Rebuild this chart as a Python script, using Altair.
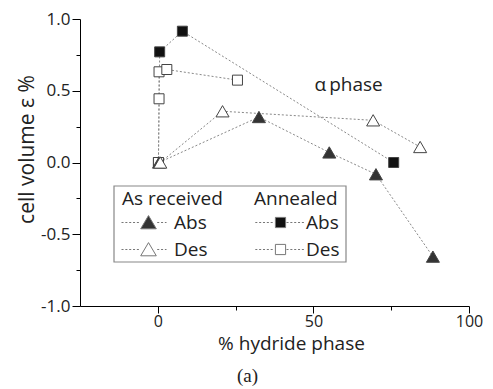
import altair as alt
import pandas as pd

# % hydride phase and cell-volume strain (%) for each run, in measurement order
ar_abs_x = [0.4, 32.5, 55.1, 70.1, 88.4]
ar_abs_y = [0.0, 0.317, 0.07, -0.082, -0.656]
ar_des_x = [0.8, 20.8, 69.2, 84.3]
ar_des_y = [0.0, 0.357, 0.294, 0.108]
an_abs_x = [0.2, 0.6, 7.9, 75.8]
an_abs_y = [0.0, 0.771, 0.915, 0.0]
an_des_x = [0.2, 0.4, 0.4, 2.9, 25.6]
an_des_y = [0.0, 0.444, 0.632, 0.648, 0.574]

kinds = ["Abs", "Des"]
x_major = [0, 50, 100]
x_minor = [25, 75]
y_major = [-1.0, -0.5, 0.0, 0.5, 1.0]
y_minor = [-0.75, -0.25, 0.25, 0.75]

FONT = "Open Sans"
INK = "#222222"


def frame(group, kind, xs, ys):
    return pd.DataFrame({
        "x": xs, "y": ys, "group": group, "kind": kind,
        "key": f"{group} {kind}", "ord": list(range(len(xs))),
    })


ar = pd.concat([frame("As received", "Abs", ar_abs_x, ar_abs_y),
                frame("As received", "Des", ar_des_x, ar_des_y)])
an = pd.concat([frame("Annealed", "Abs", an_abs_x, an_abs_y),
                frame("Annealed", "Des", an_des_x, an_des_y)])
allpts = pd.concat([an, ar])

note = pd.DataFrame({"x": [61.3], "y": [0.495], "t": ["\u03b1\u2009phase"]})


def dashes(a, b, seg=0.34, gap=0.3):
    out, p = [], a
    while p < b:
        q = min(p + seg, b)
        out.append(f"M{p:.2f},0H{q:.2f}")
        p = q + gap
    return "".join(out)


# legend glyphs: marker with a dotted line through it (unit box, scaled by symbolSize)
tri_glyph = dashes(-4.5, -1.45) + "M0,-1.15L1.3,1.05L-1.3,1.05Z" + dashes(1.45, 3.0)
sq_glyph = dashes(-4.2, -1.0) + "M-0.85,-0.85H0.85V0.85H-0.85Z" + dashes(1.0, 4.2)

is_minor_x = "datum.value % 50 != 0"
is_minor_y = "abs(datum.value * 2 - round(datum.value * 2)) > 0.01"

x_enc = alt.X(
    "x:Q",
    scale=alt.Scale(domain=[-25, 100], nice=False, zero=False),
    axis=alt.Axis(
        values=sorted(x_major + x_minor),
        labelExpr=f"{is_minor_x} ? '' : datum.label",
        tickSize={"condition": {"test": is_minor_x, "value": 4}, "value": 7},
        labelOverlap=False, labelFlush=False, labelPadding=0,
        labelFontSize=16, labelFont=FONT, labelColor=INK,
        title="% hydride phase", titleFont=FONT, titleFontSize=19,
        titleFontWeight="normal", titleColor=INK,
        titleX=211, titleY=43, titleAlign="center", titleBaseline="alphabetic",
        grid=False,
    ),
)
y_enc = alt.Y(
    "y:Q",
    scale=alt.Scale(domain=[-1, 1], nice=False, zero=False),
    axis=alt.Axis(
        values=sorted(y_major + y_minor),
        labelExpr=(f"{is_minor_y} ? '' : (datum.value < 0 ? '-' + format(-datum.value, '.1f')"
                   " : format(datum.value, '.1f'))"),
        tickSize={"condition": {"test": is_minor_y, "value": 4}, "value": 8},
        labelOverlap=False, labelFlush=False, labelPadding=2,
        labelFontSize=17, labelFont=FONT, labelColor=INK,
        title="cell volume \u03b5 %", titleFont=FONT, titleFontSize=21,
        titleFontWeight="normal", titleColor=INK, titleAngle=270,
        titleX=-47, titleY=130, titleAlign="center", titleBaseline="alphabetic",
        grid=False,
    ),
)

legend_common = dict(
    orient="none", legendY=171, direction="vertical",
    titleFont=FONT, titleFontSize=19, titleFontWeight="normal", titleColor=INK,
    titlePadding=4, labelFont=FONT, labelFontSize=19, labelColor=INK,
    symbolSize=144, symbolStrokeColor="#777777", symbolStrokeWidth=1,
    symbolOffset=17, labelOffset=16, rowPadding=7, padding=0,
)

box = alt.Chart(pd.DataFrame({"k": [0]})).mark_rect(
    fill="white", stroke="#888888", strokeWidth=1.2
).encode(x=alt.value(34), x2=alt.value(266), y=alt.value(167), y2=alt.value(243))

lines = alt.Chart(allpts).mark_line(
    strokeDash=[2, 2], color="#888888", strokeWidth=1
).encode(x=x_enc, y=y_enc, detail="key:N", order="ord:Q")

an_pts = alt.Chart(an).mark_point(
    shape="square", filled=True, size=100, opacity=1, stroke="#444444", strokeWidth=1
).encode(
    x=x_enc, y=y_enc,
    fill=alt.Fill("kind:N", scale=alt.Scale(domain=kinds, range=["#111111", "white"]),
                  legend=alt.Legend(title="Annealed", legendX=174, symbolType=sq_glyph,
                                    **legend_common)),
)

ar_pts = alt.Chart(ar).mark_point(
    shape="triangle-up", filled=True, size=170, opacity=1, stroke="#444444", strokeWidth=1
).encode(
    x=x_enc, y=y_enc,
    fill=alt.Fill("kind:N", scale=alt.Scale(domain=kinds, range=["#333333", "white"]),
                  legend=alt.Legend(title="As received", legendX=42, symbolType=tri_glyph,
                                    **legend_common)),
)

label = alt.Chart(note).mark_text(
    font=FONT, fontSize=19, align="center", baseline="alphabetic", color=INK
).encode(x=x_enc, y=y_enc, text="t:N")

chart = alt.layer(box, lines, an_pts, ar_pts, label).resolve_scale(
    fill="independent"
).properties(
    width=389, height=287,
    padding={"left": 80, "top": 19, "right": 24, "bottom": 83},
    autosize=alt.AutoSizeParams(type="none"),
    title=alt.TitleParams("(a)", orient="bottom", font="Liberation Serif", fontSize=19,
                          fontWeight="normal", color=INK, anchor="middle", dx=-27, offset=14),
).configure_view(stroke=None).configure_axis(domainColor="black", tickColor="black")

chart.save("out.html", embed_options={"renderer": "svg", "actions": False})
